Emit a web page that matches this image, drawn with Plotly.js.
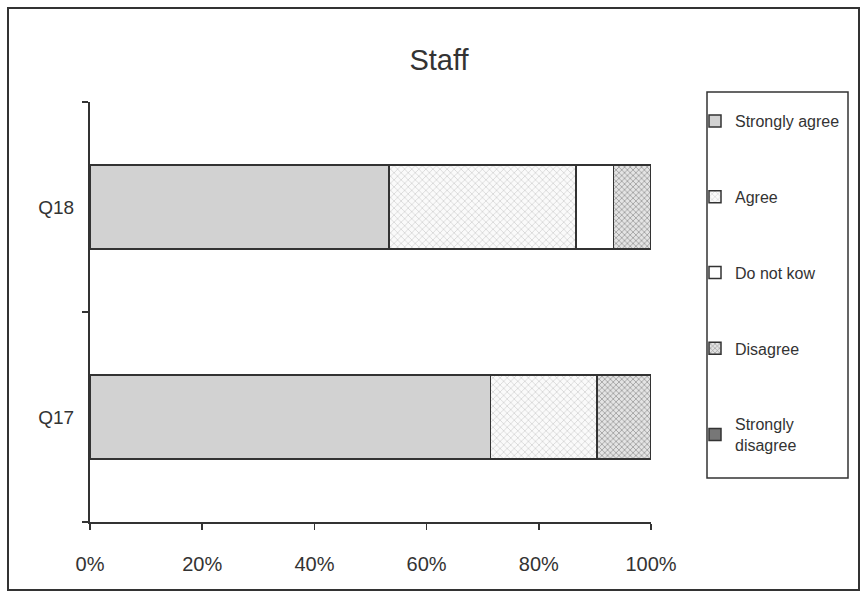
<!DOCTYPE html>
<html>
<head>
<meta charset="utf-8">
<script src="https://cdn.plot.ly/plotly-3.0.1.min.js"></script>
<style>html,body{margin:0;padding:0;background:#fff;}#chart{width:862px;height:595px;}</style>
</head>
<body>
<div id="chart"></div>
<script>
const categories = ['Q17', 'Q18'];
const seriesNames = ['Strongly agree', 'Agree', 'Do not kow', 'Disagree', 'Strongly<br>disagree'];
const stronglyAgree = [71.4, 53.3];
const agree = [19.0, 33.3];
const doNotKnow = [0, 6.7];
const disagree = [9.6, 6.7];
const stronglyDisagree = [0, 0];
const xTicks = [0, 20, 40, 60, 80, 100];
const xTickLabels = ['0%', '20%', '40%', '60%', '80%', '100%'];

const values = [stronglyAgree, agree, doNotKnow, disagree, stronglyDisagree];
const markers = [
  {color: '#d2d2d2'},
  {color: '#ffffff', pattern: {shape: 'x', bgcolor: '#fafafa', fgcolor: '#b0b0b0', size: 5, solidity: 0.15}},
  {color: '#ffffff'},
  {color: '#d8d8d8', pattern: {shape: 'x', bgcolor: '#e4e4e4', fgcolor: '#888888', size: 4, solidity: 0.3}},
  {color: '#777777'}
];

const traces = values.map((v, i) => ({
  type: 'bar',
  orientation: 'h',
  name: seriesNames[i],
  y: categories,
  x: v,
  legendgroup: 'g' + i,
  marker: Object.assign({}, markers[i], {line: {color: '#333333', width: 1.5}}),
  hoverinfo: 'none'
}));

const px = p => (p - 90) / 561;
const py = p => (522 - p) / 420;

const layout = {
  width: 862, height: 595,
  margin: {l: 90, r: 211, t: 102, b: 73},
  paper_bgcolor: '#ffffff',
  plot_bgcolor: '#ffffff',
  barmode: 'stack',
  bargap: 0.6,
  font: {family: 'Liberation Sans, Arial, sans-serif', color: '#333333'},
  title: {text: 'Staff', font: {size: 29, color: '#333333'}, xref: 'container', yref: 'container', x: 439/862, xanchor: 'center', y: 1 - 60/595, yanchor: 'middle'},
  xaxis: {
    range: [0, 100], tickvals: xTicks, ticktext: xTickLabels,
    showgrid: false, zeroline: false, showline: true, linecolor: '#333333', linewidth: 2,
    ticks: 'outside', ticklen: 6, tickcolor: '#333333', tickwidth: 1.5,
    ticklabelstandoff: 17, tickfont: {size: 20, color: '#333333'}
  },
  yaxis: {
    type: 'category', range: [-0.5, 1.5],
    showgrid: false, zeroline: false, showline: true, linecolor: '#333333', linewidth: 2,
    ticks: 'outside', ticklen: 6, tickcolor: '#333333', tickwidth: 1.5, tickson: 'boundaries',
    ticklabelstandoff: 10, tickfont: {size: 19, color: '#333333'}
  },
  showlegend: true,
  legend: {
    x: px(695), xanchor: 'left', y: py(104), yanchor: 'top',
    traceorder: 'grouped', tracegroupgap: 52,
    bgcolor: 'rgba(0,0,0,0)', borderwidth: 0,
    font: {size: 16, color: '#333333'}
  },
  shapes: [
    {type: 'rect', xref: 'paper', yref: 'paper', x0: px(707), x1: px(848), y0: py(92), y1: py(478), line: {color: '#333333', width: 1.5}},
    {type: 'rect', xref: 'paper', yref: 'paper', x0: px(8), x1: px(859), y0: py(8), y1: py(590), line: {color: '#333333', width: 2}}
  ]
};

Plotly.newPlot('chart', traces, layout, {displayModeBar: false, staticPlot: true});
</script>
</body>
</html>
